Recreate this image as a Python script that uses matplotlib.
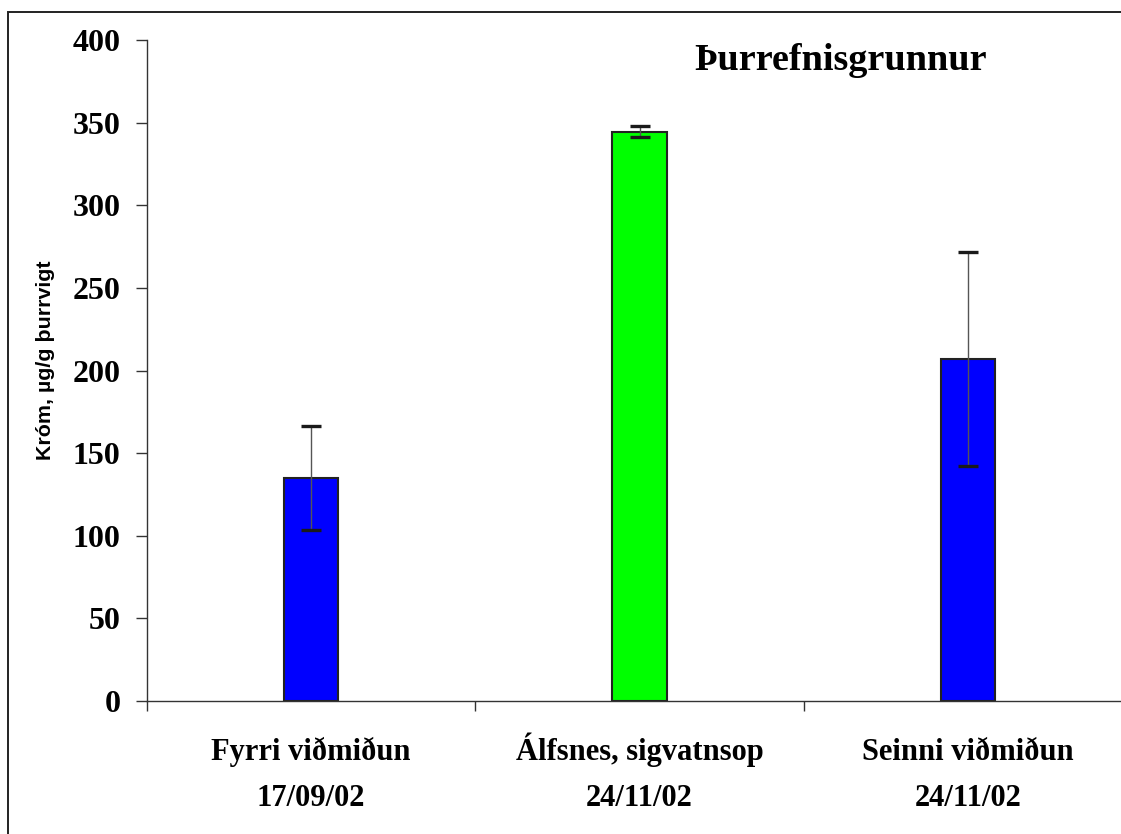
import matplotlib
matplotlib.use("Agg")
import matplotlib.pyplot as plt
import matplotlib.transforms as mtransforms
from matplotlib.patches import Rectangle
import numpy as np

# sýni og mæligildi (króm, µg/g þurrvigt)
stadir = ["Fyrri viðmiðun", "Álfsnes, sigvatnsop", "Seinni viðmiðun"]
dagsetningar = ["17/09/02", "24/11/02", "24/11/02"]
medaltal = [135.0, 344.5, 207.0]
skekkja = [31.5, 3.5, 64.5]
litir = ["#0000FF", "#00FF00", "#0000FF"]

yticks = np.arange(0, 401, 50)

W, H = 1121, 834
fig = plt.figure(figsize=(W / 100, H / 100), dpi=100)

# ramminn utan um myndina
fig.patches.append(Rectangle((8 / W, -0.1), 1.2, 1.1 - 12 / H, transform=fig.transFigure,
                             fill=False, edgecolor="#222222", linewidth=1.4, clip_on=False))

ax = fig.add_axes([147 / W, (H - 701) / H, 985 / W, 661 / H])

x = np.arange(len(stadir))
ax.bar(x, medaltal, width=0.165, color=litir, edgecolor="#222222", linewidth=1.5, zorder=2)
eb = ax.errorbar(x, medaltal, yerr=skekkja, fmt="none", ecolor="#555555", elinewidth=1.0,
                 capsize=7.2, capthick=2.4, zorder=3)
for cap in eb[1]:
    cap.set_markeredgecolor("#1a1a1a")

ax.set_xlim(-0.5, 2.5)
ax.set_ylim(0, 400)
ax.set_yticks(yticks)
ax.set_yticklabels([str(v) for v in yticks])

ax.set_xticks([-0.5, 0.5, 1.5, 2.5])
ax.set_xticklabels([])
ax.tick_params(axis="x", which="major", length=7.2, width=1.0, color="#333333", direction="out")
ax.tick_params(axis="y", length=8, width=1.0, color="#333333", direction="out", pad=11)
for lab in ax.get_yticklabels():
    lab.set_family("Liberation Serif")
    lab.set_fontweight("bold")
    lab.set_fontsize(23)

# flokkaheiti í tveimur línum undir ásnum
trans = mtransforms.blended_transform_factory(ax.transData, fig.transFigure)
for xi, nafn, dags in zip(x, stadir, dagsetningar):
    ax.text(xi, 1 - 760 / H, nafn, transform=trans, ha="center", va="baseline",
            family="Liberation Serif", fontweight="bold", fontsize=22)
    ax.text(xi, 1 - 806 / H, dags, transform=trans, ha="center", va="baseline",
            family="Liberation Serif", fontweight="bold", fontsize=22)

for s in ["top", "right"]:
    ax.spines[s].set_visible(False)
for s in ["left", "bottom"]:
    ax.spines[s].set_color("#333333")
    ax.spines[s].set_linewidth(1.0)

ax.set_ylabel("Króm, µg/g þurrvigt", family="Liberation Sans", fontweight="bold", fontsize=15.4)
ax.yaxis.set_label_coords(-0.093, 0.515)

fig.text(841 / W, 1 - 60 / H, "Þurrefnisgrunnur", family="Liberation Serif", fontweight="bold",
         fontsize=27.5, ha="center", va="center")

fig.savefig("out.png", dpi=100)
